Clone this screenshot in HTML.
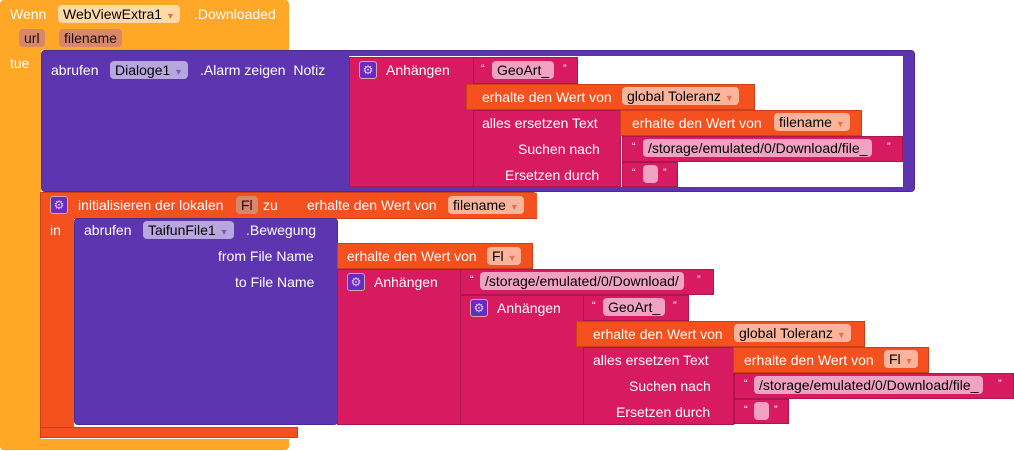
<!DOCTYPE html>
<html><head><meta charset="utf-8"><style>
body{margin:0;width:1014px;height:451px;background:#fff;position:relative;overflow:hidden;font-family:"Liberation Sans",sans-serif;font-size:14px;color:#fff}
.b{position:absolute;box-sizing:border-box}
.o{background:#ffa726;border-radius:4px}
.p{background:#5e35b1;border:1px solid #4b2a8e}
.r{background:#f4511e;border:1px solid #c8401a}
.k{background:#d81b60;border:1px solid #ad164d}
.t{position:absolute;white-space:nowrap;line-height:16px}
.f{position:absolute;height:18px;line-height:18px;border-radius:4px;color:#000;padding:0 5px;white-space:nowrap;box-sizing:border-box}
.fr{background:#fbb49c}
.fk{background:#f0a2c0}
.fp{background:#b8a6de}
.fo{background:#ffd9a8}
.fe{background:#d9876a}
.g{position:absolute;width:18px;height:18px;border-radius:3px;background:#6a2cc0;border:1px solid #caa;box-sizing:border-box;color:#e0c8ff;font-size:12px;line-height:16px;text-align:center}
.a{font-size:9px;color:#e8734a}
.ap{font-size:9px;color:#7a5fc0}
.q{position:absolute;font-size:11px;line-height:14px}
</style></head><body>
<!-- event block -->
<div class="b o" style="left:0;top:0;width:289px;height:50px;border-radius:4px 4px 0 0"></div>
<div class="b o" style="left:0;top:0;width:41px;height:450px"></div>
<div class="b o" style="left:0;top:439px;width:289px;height:11px;border-radius:0 0 4px 4px"></div>
<div class="t" style="left:10px;top:6px">Wenn</div>
<div class="f fo" style="left:58px;top:5px">WebViewExtra1 <span class="a">▼</span></div>
<div class="t" style="left:194px;top:6px">.Downloaded</div>
<div class="f fe" style="left:19px;top:29px;color:#111">url</div>
<div class="f fe" style="left:59px;top:29px;color:#111">filename</div>
<div class="t" style="left:10px;top:55px">tue</div>

<!-- alarm block -->
<div class="b p" style="left:41px;top:50px;width:874px;height:142px;border-radius:4px"></div>
<div class="b" style="left:349px;top:56px;width:554px;height:131px;background:#fff"></div>
<div class="t" style="left:51px;top:62px">abrufen</div>
<div class="f fp" style="left:110px;top:61px">Dialoge1 <span class="ap">▼</span></div>
<div class="t" style="left:200px;top:62px">.Alarm zeigen&nbsp; Notiz</div>

<div class="b k" style="left:349px;top:57px;width:125px;height:130px"></div>
<div class="g" style="left:359px;top:61px">⚙</div>
<div class="t" style="left:386px;top:62px">Anhängen</div>
<div class="b k" style="left:473px;top:57px;width:105px;height:27px"></div>
<div class="q" style="left:481px;top:62px">“</div>
<div class="f fk" style="left:492px;top:61px">GeoArt_</div>
<div class="q" style="left:563px;top:62px">”</div>
<div class="b r" style="left:466px;top:84px;width:289px;height:26px"></div>
<div class="t" style="left:482px;top:89px">erhalte den Wert von</div>
<div class="f fr" style="left:622px;top:87px">global Toleranz <span class="a">▼</span></div>
<div class="b k" style="left:473px;top:110px;width:148px;height:77px"></div>
<div class="t" style="left:482px;top:115px">alles ersetzen Text</div>
<div class="t" style="left:518px;top:141px">Suchen nach</div>
<div class="t" style="left:505px;top:167px">Ersetzen durch</div>
<div class="b r" style="left:620px;top:110px;width:242px;height:26px"></div>
<div class="t" style="left:632px;top:115px">erhalte den Wert von</div>
<div class="f fr" style="left:774px;top:113px">filename <span class="a">▼</span></div>
<div class="b k" style="left:622px;top:136px;width:281px;height:26px"></div>
<div class="q" style="left:632px;top:140px">“</div>
<div class="f fk" style="left:643px;top:139px">/storage/emulated/0/Download/file_</div>
<div class="q" style="left:887px;top:140px">”</div>
<div class="b k" style="left:622px;top:162px;width:56px;height:25px"></div>
<div class="q" style="left:632px;top:166px">“</div>
<div class="f fk" style="left:643px;top:165px;width:15px"></div>
<div class="q" style="left:663px;top:166px">”</div>

<!-- local init -->
<div class="b r" style="left:40px;top:192px;width:497px;height:27px;border-radius:4px 4px 0 0"></div>
<div class="b r" style="left:40px;top:192px;width:34px;height:246px;border-right:none"></div>
<div class="b r" style="left:40px;top:427px;width:258px;height:11px"></div>
<div class="g" style="left:50px;top:196px">⚙</div>
<div class="t" style="left:78px;top:197px">initialisieren der lokalen</div>
<div class="f fe" style="left:236px;top:196px;color:#111">Fl</div>
<div class="t" style="left:263px;top:197px">zu</div>
<div class="b r" style="left:297px;top:193px;width:240px;height:25px;border:none"></div>
<div class="t" style="left:307px;top:197px">erhalte den Wert von</div>
<div class="f fr" style="left:448px;top:196px">filename <span class="a">▼</span></div>
<div class="t" style="left:50px;top:222px">in</div>

<!-- taifun -->
<div class="b p" style="left:74px;top:218px;width:264px;height:207px;border-radius:4px"></div>
<div class="t" style="left:84px;top:222px">abrufen</div>
<div class="f fp" style="left:143px;top:221px">TaifunFile1 <span class="ap">▼</span></div>
<div class="t" style="left:246px;top:222px">.Bewegung</div>
<div class="t" style="left:218px;top:248px">from File Name</div>
<div class="t" style="left:235px;top:274px">to File Name</div>
<div class="b r" style="left:337px;top:243px;width:196px;height:26px"></div>
<div class="t" style="left:347px;top:248px">erhalte den Wert von</div>
<div class="f fr" style="left:487px;top:247px">Fl <span class="a">▼</span></div>

<div class="b k" style="left:337px;top:269px;width:124px;height:156px"></div>
<div class="g" style="left:347px;top:273px">⚙</div>
<div class="t" style="left:374px;top:274px">Anhängen</div>
<div class="b k" style="left:460px;top:269px;width:254px;height:26px"></div>
<div class="q" style="left:470px;top:273px">“</div>
<div class="f fk" style="left:480px;top:272px">/storage/emulated/0/Download/</div>
<div class="q" style="left:697px;top:273px">”</div>
<div class="b k" style="left:460px;top:295px;width:124px;height:130px"></div>
<div class="g" style="left:470px;top:299px">⚙</div>
<div class="t" style="left:497px;top:300px">Anhängen</div>
<div class="b k" style="left:583px;top:295px;width:106px;height:26px"></div>
<div class="q" style="left:592px;top:299px">“</div>
<div class="f fk" style="left:603px;top:298px">GeoArt_</div>
<div class="q" style="left:673px;top:299px">”</div>
<div class="b r" style="left:576px;top:321px;width:289px;height:26px"></div>
<div class="t" style="left:593px;top:326px">erhalte den Wert von</div>
<div class="f fr" style="left:734px;top:324px">global Toleranz <span class="a">▼</span></div>
<div class="b k" style="left:583px;top:347px;width:151px;height:78px"></div>
<div class="t" style="left:593px;top:352px">alles ersetzen Text</div>
<div class="t" style="left:629px;top:378px">Suchen nach</div>
<div class="t" style="left:616px;top:404px">Ersetzen durch</div>
<div class="b r" style="left:733px;top:347px;width:196px;height:26px"></div>
<div class="t" style="left:744px;top:352px">erhalte den Wert von</div>
<div class="f fr" style="left:884px;top:350px">Fl <span class="a">▼</span></div>
<div class="b k" style="left:734px;top:373px;width:280px;height:26px"></div>
<div class="q" style="left:744px;top:377px">“</div>
<div class="f fk" style="left:754px;top:376px">/storage/emulated/0/Download/file_</div>
<div class="q" style="left:998px;top:377px">”</div>
<div class="b k" style="left:734px;top:399px;width:55px;height:25px"></div>
<div class="q" style="left:744px;top:403px">“</div>
<div class="f fk" style="left:754px;top:402px;width:15px"></div>
<div class="q" style="left:774px;top:403px">”</div>
</body></html>
